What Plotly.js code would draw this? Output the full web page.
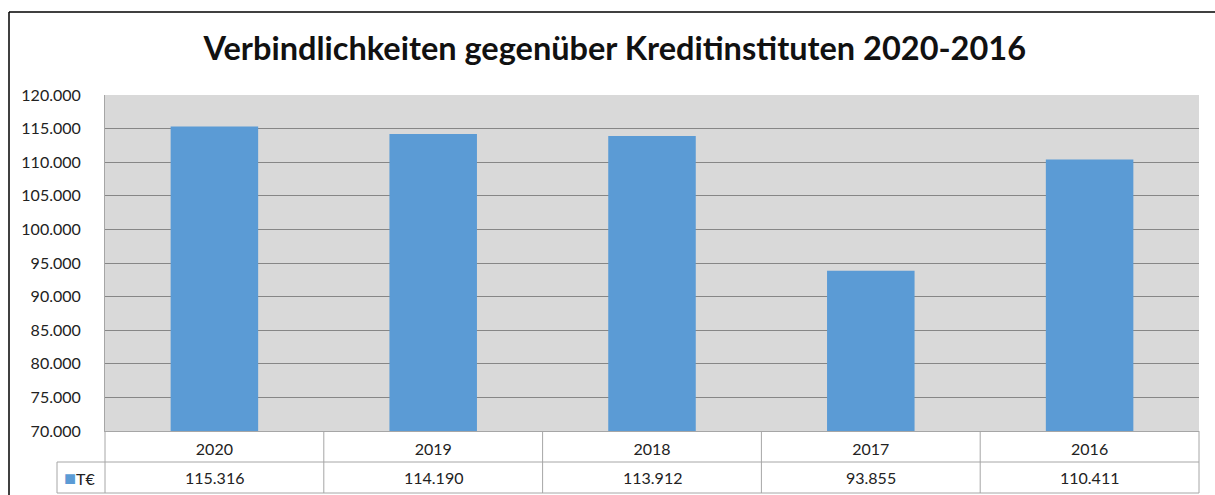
<!DOCTYPE html>
<html>
<head>
<meta charset="utf-8">
<script src="https://cdn.plot.ly/plotly-3.0.1.min.js"></script>
<style>
  html, body { margin: 0; padding: 0; background: #fff; }
  #plot { width: 1215px; height: 495px; }
</style>
</head>
<body>
<div id="plot"></div>
<script>
// data
let years = ['2020', '2019', '2018', '2017', '2016'];
let values = [115316, 114190, 113912, 93855, 110411];
let seriesName = 'T€';
let chartTitle = 'Verbindlichkeiten gegenüber Kreditinstituten 2020-2016';

let fmt = v => String(v).replace(/\B(?=(\d{3})+(?!\d))/g, '.');

let trace1 = {
  x: years,
  y: values,
  name: seriesName,
  type: 'bar',
  width: 0.4,
  marker: { color: '#5b9bd5' },
  hoverinfo: 'x+y'
};

// plot area: x 105..1199, y 95..431 px
let L = 105, R = 16, T = 95, B = 64;
let pw = 1215 - L - R, ph = 495 - T - B;
let px = x => (x - L) / pw;
let py = y => (495 - B - y) / ph;

let lineCol = '#a6a6a6';
let shapes = [];
// table rows
shapes.push({ type: 'line', xref: 'paper', yref: 'paper', x0: px(57), x1: 1, y0: py(462), y1: py(462), line: { color: lineCol, width: 1 } });
shapes.push({ type: 'line', xref: 'paper', yref: 'paper', x0: px(57), x1: 1, y0: py(493), y1: py(493), line: { color: lineCol, width: 1 } });
// legend cell left edge
shapes.push({ type: 'line', xref: 'paper', yref: 'paper', x0: px(57), x1: px(57), y0: py(462), y1: py(493), line: { color: lineCol, width: 1 } });
// column separators
for (let i = 0; i <= years.length; i++) {
  shapes.push({ type: 'line', xref: 'paper', yref: 'paper', x0: i / years.length, x1: i / years.length, y0: 0, y1: py(493), line: { color: lineCol, width: 1 } });
}
// chart border (top and left visible)
shapes.push({ type: 'line', xref: 'paper', yref: 'paper', x0: px(9), x1: px(1216), y0: py(12), y1: py(12), line: { color: '#000', width: 1.5 } });
shapes.push({ type: 'line', xref: 'paper', yref: 'paper', x0: px(9), x1: px(9), y0: py(12), y1: py(496), line: { color: '#000', width: 1.5 } });

// value row of the data table
let annotations = years.map((yr, i) => ({
  x: i, xref: 'x', y: py(477), yref: 'paper',
  text: fmt(values[i]), showarrow: false,
  font: { family: 'Lato, sans-serif', size: 16, color: '#222' },
  xanchor: 'center', yanchor: 'middle'
}));
annotations.push({
  x: px(62), xref: 'paper', y: py(477), yref: 'paper',
  text: '<span style="color:#5b9bd5;font-size:20px">■</span>' + seriesName, showarrow: false,
  font: { family: 'Lato, sans-serif', size: 16, color: '#222' },
  xanchor: 'left', yanchor: 'middle'
});

let layout = {
  width: 1215, height: 495,
  margin: { l: L, r: R, t: T, b: B },
  paper_bgcolor: '#ffffff',
  plot_bgcolor: '#d9d9d9',
  showlegend: false,
  title: {
    text: '<b>' + chartTitle + '</b>',
    font: { family: 'Lato, sans-serif', size: 32.5, color: '#111' },
    x: 0.506, xanchor: 'center',
    y: 1 - 49 / 495, yanchor: 'middle'
  },
  xaxis: {
    type: 'category',
    range: [-0.5, years.length - 0.5],
    autorange: false,
    showgrid: false,
    showline: true, linecolor: lineCol, linewidth: 1,
    ticks: '',
    ticklabelstandoff: 4,
    tickfont: { family: 'Lato, sans-serif', size: 16, color: '#222' }
  },
  yaxis: {
    range: [70000, 120000],
    autorange: false,
    dtick: 5000,
    tickformat: ',d',
    showgrid: true, gridcolor: '#868686', gridwidth: 1,
    zeroline: false,
    showline: true, linecolor: lineCol,
    ticks: '',
    ticklabelstandoff: 20,
    tickfont: { family: 'Lato, sans-serif', size: 16, color: '#222' }
  },
  separators: ',.',
  shapes: shapes,
  annotations: annotations
};

Plotly.newPlot('plot', [trace1], layout, { displayModeBar: false });
</script>
</body>
</html>
